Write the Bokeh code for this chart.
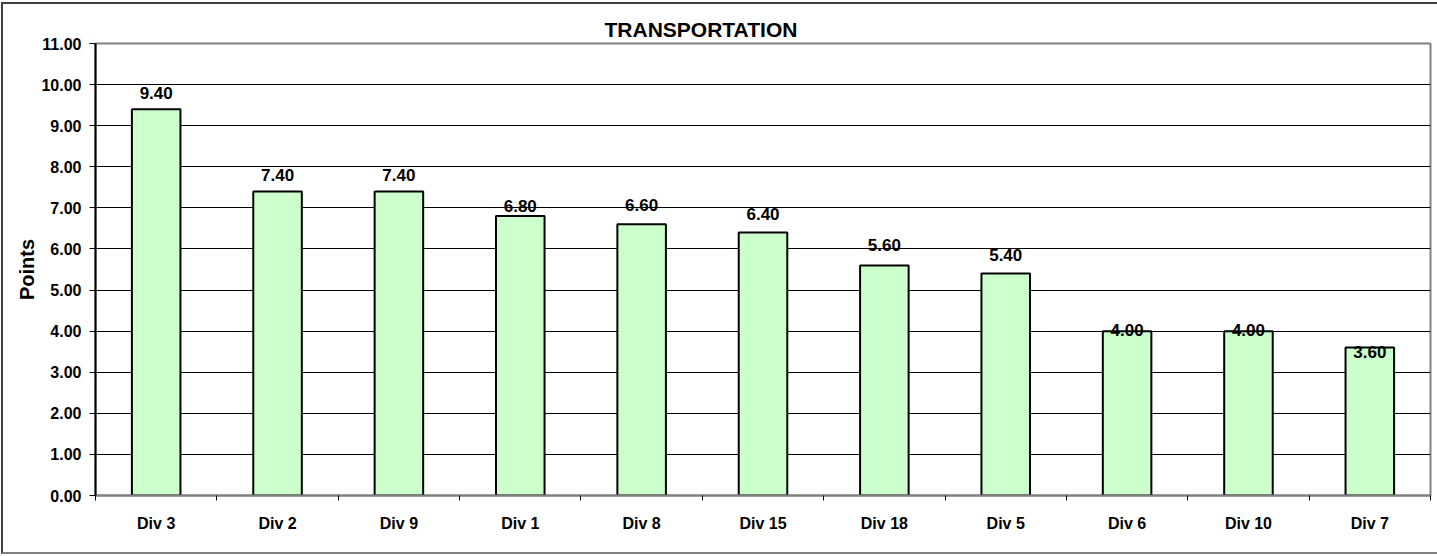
from bokeh.plotting import figure
from bokeh.models import ColumnDataSource, Range1d, FixedTicker, NumeralTickFormatter
from bokeh.core.properties import value
from bokeh.embed import file_html
from bokeh.resources import INLINE

categories = ["Div 3", "Div 2", "Div 9", "Div 1", "Div 8", "Div 15", "Div 18", "Div 5", "Div 6", "Div 10", "Div 7"]
points = [9.40, 7.40, 7.40, 6.80, 6.60, 6.40, 5.60, 5.40, 4.00, 4.00, 3.60]
y_ticks = [0, 1, 2, 3, 4, 5, 6, 7, 8, 9, 10, 11]
# label lift above bar top (pixels, style only)
label_lift = [16, 16, 16, 10, 19, 19, 20, 19, 1, 1, -4]

FONT = "Liberation Sans"

xs = [i + 0.5 for i in range(len(categories))]
src = ColumnDataSource(dict(
    x=xs, top=points,
    label=["%.2f" % v for v in points],
    yoff=[-l for l in label_lift],
))

p = figure(width=1436, height=552, output_backend="svg", toolbar_location=None,
           x_range=Range1d(0, len(categories)), y_range=Range1d(0, 11),
           min_border_left=92, min_border_right=9, min_border_top=39, min_border_bottom=61,
           styles={"position": "absolute", "left": "1px", "top": "2px",
                   "border-left": "2px solid #404040",
                   "border-top": "2px solid #404040",
                   "border-bottom": "2px solid #808080"})

p.title.text = "TRANSPORTATION"
p.title.align = "left"
p.title.offset = 509
p.title.text_font = FONT
p.title.text_font_size = "21px"
p.title.text_font_style = "bold"
p.title.text_color = "black"
p.title.standoff = 6

p.background_fill_color = "white"
p.border_fill_color = "white"
p.outline_line_color = "#808080"
p.outline_line_width = 2

p.vbar(x="x", top="top", width=0.4, bottom=0, source=src,
       fill_color="#CCFFCC", line_color="black", line_width=2)

p.text(x="x", y="top", text="label", source=src, y_offset="yoff",
       text_align="center", text_baseline="middle",
       text_font=value(FONT), text_font_size="17px", text_font_style="bold",
       text_color="black")

# y axis
p.yaxis.ticker = FixedTicker(ticks=y_ticks)
p.yaxis.formatter = NumeralTickFormatter(format="0.00")
p.yaxis.axis_label = "Points"
p.yaxis.axis_label_text_font = FONT
p.yaxis.axis_label_text_font_size = "20px"
p.yaxis.axis_label_text_font_style = "bold"
p.yaxis.axis_label_text_color = "black"
p.yaxis.axis_label_standoff = 0
p.yaxis.major_label_text_font = FONT
p.yaxis.major_label_text_font_size = "16px"
p.yaxis.major_label_text_font_style = "bold"
p.yaxis.major_label_text_color = "black"
p.yaxis.major_tick_out = 6
p.yaxis.major_tick_in = 0
p.yaxis.major_tick_line_color = "black"
p.yaxis.minor_tick_line_color = None
p.yaxis.axis_line_color = "black"
p.yaxis.axis_line_width = 2
p.yaxis.major_label_standoff = 8

# x axis: labels centered, ticks at category boundaries
p.xaxis.ticker = FixedTicker(ticks=xs, minor_ticks=list(range(len(categories) + 1)))
p.xaxis.major_label_overrides = {x: c for x, c in zip(xs, categories)}
p.xaxis.major_label_text_font = FONT
p.xaxis.major_label_text_font_size = "16px"
p.xaxis.major_label_text_font_style = "bold"
p.xaxis.major_label_text_color = "black"
p.xaxis.major_tick_line_color = None
p.xaxis.major_tick_out = 0
p.xaxis.major_tick_in = 0
p.xaxis.minor_tick_out = 5
p.xaxis.minor_tick_in = 0
p.xaxis.minor_tick_line_color = "black"
p.xaxis.axis_line_color = "#808080"
p.xaxis.axis_line_width = 2
p.xaxis.major_label_standoff = 14

p.xgrid.grid_line_color = None
p.ygrid.ticker = FixedTicker(ticks=list(range(1, 11)))
p.ygrid.grid_line_color = "black"
p.ygrid.grid_line_width = 1

open("out.html", "w").write(file_html(p, INLINE))
